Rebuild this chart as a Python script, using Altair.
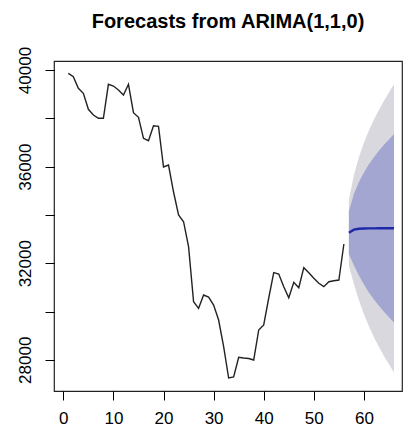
import altair as alt
import pandas as pd

# Observed series (t = 1..56)
series = [39863, 39723, 39242, 39035, 38373, 38137, 38000, 38000, 39408, 39337,
          39172, 38965, 39408, 38232, 38041, 37172, 37072, 37694, 37669, 35983,
          36066, 34948, 33996, 33718, 32683, 30406, 30132, 30683, 30600, 30269,
          29648, 28543, 27246, 27288, 28104, 28075, 28054, 27992, 29234, 29441,
          30559, 31607, 31553, 31027, 30571, 31209, 30985, 31814, 31607, 31375,
          31168, 31027, 31234, 31275, 31304, 32795]

# Forecast horizon (t = 57..66)
fc_mean = [33263, 33390, 33425, 33438, 33442, 33444, 33445, 33445, 33445, 33445]
lo80 = [32370, 31916, 31487, 31115, 30789, 30496, 30238, 29988, 29764, 29541]
hi80 = [34156, 34864, 35363, 35761, 36095, 36392, 36652, 36902, 37126, 37349]
lo95 = [31897, 31136, 30461, 29886, 29385, 28936, 28541, 28159, 27817, 27475]
hi95 = [34629, 35644, 36389, 36990, 37499, 37952, 38349, 38731, 39073, 39415]

x_ticks = [0, 10, 20, 30, 40, 50, 60]
y_ticks = [28000, 30000, 32000, 34000, 36000, 38000, 40000]

n = len(series)
obs = pd.DataFrame({"t": list(range(1, n + 1)), "v": series})
fc = pd.DataFrame({
    "t": list(range(n + 1, n + 1 + len(fc_mean))),
    "mean": fc_mean, "lo80": lo80, "hi80": hi80, "lo95": lo95, "hi95": hi95,
})

FONT = "Liberation Sans"
xs = alt.Scale(domain=[-1.86, 67.6], nice=False, zero=False)
ys = alt.Scale(domain=[26708, 40373], nice=False, zero=False)

xaxis = alt.Axis(values=x_ticks, title=None, grid=False, domain=False,
                 tickSize=9, tickColor="black", labelColor="black",
                 labelFont=FONT, labelFontSize=17, labelPadding=10, format="d")
yaxis = alt.Axis(values=y_ticks, title=None, grid=False, domain=False,
                 tickSize=9, tickColor="black", labelColor="black",
                 labelFont=FONT, labelFontSize=17, labelPadding=11, format="d",
                 labelAngle=270, labelAlign="center", labelBaseline="bottom",
                 labelExpr="datum.value % 4000 == 0 ? datum.label : ''")

band95 = alt.Chart(fc).mark_area(color="#D8D8DE", opacity=1).encode(
    x=alt.X("t:Q", scale=xs, axis=xaxis),
    y=alt.Y("lo95:Q", scale=ys, axis=yaxis),
    y2="hi95:Q",
)
band80 = alt.Chart(fc).mark_area(color="#A2A6D1", opacity=1).encode(
    x=alt.X("t:Q", scale=xs),
    y=alt.Y("lo80:Q", scale=ys),
    y2="hi80:Q",
)
mean_line = alt.Chart(fc).mark_line(color="#1E28A8", strokeWidth=2.4).encode(
    x=alt.X("t:Q", scale=xs),
    y=alt.Y("mean:Q", scale=ys),
)
obs_line = alt.Chart(obs).mark_line(color="#222222", strokeWidth=1.4).encode(
    x=alt.X("t:Q", scale=xs),
    y=alt.Y("v:Q", scale=ys),
)

chart = alt.layer(band95, band80, mean_line, obs_line).properties(
    width=348, height=330,
    title=alt.TitleParams("Forecasts from ARIMA(1,1,0)", font=FONT, fontSize=20,
                          fontWeight="bold", color="black", anchor="middle",
                          offset=14),
    autosize=alt.AutoSizeParams(type="none"),
    padding={"left": 46, "top": 53, "right": 1, "bottom": 38},
    background="white",
).configure_view(stroke="#222222", strokeWidth=1.2)

chart.save("out.html", embed_options={"renderer": "svg", "actions": False})
